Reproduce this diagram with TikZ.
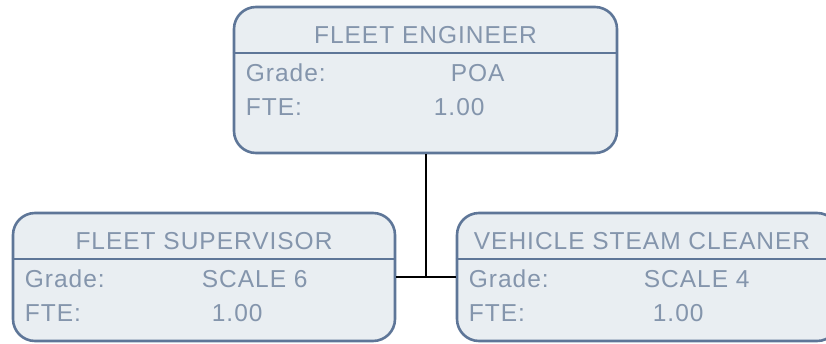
\documentclass[tikz,border=0pt]{standalone}
\usepackage{fontspec}
\setmainfont{Liberation Sans}[LetterSpace=4]
\definecolor{boxfill}{RGB}{233,238,242}
\definecolor{boxline}{RGB}{94,118,152}
\definecolor{boxtext}{RGB}{132,149,172}
\begin{document}
\begin{tikzpicture}[x=1pt, y=-1pt,
    box/.style={draw=boxline, fill=boxfill, line width=2.6pt, rounded corners=22pt, inner sep=0pt},
    topbox/.style={box, minimum width=383pt, minimum height=146pt},
    subbox/.style={box, minimum width=382pt, minimum height=128pt},
    divider/.style={draw=boxline, line width=2pt},
    txt/.style={font=\fontsize{24.5}{28}\selectfont, text=boxtext, inner sep=0pt},
    link/.style={draw=black, line width=2pt}]
  \useasboundingbox (0,0) rectangle (826,343);
  % boxes
  \node[topbox] (eng) at (425.5,80) {};
  \node[subbox] (sup) at (204,277) {};
  \node[subbox] (cln) at (648,277) {};
  % connectors
  \draw[link] (eng.south) -- (eng.south |- sup.east);
  \draw[link] (sup.east) -- (cln.west);
  % dividers
  \foreach \b in {eng,sup,cln} {
    \draw[divider] ([yshift=-47pt]\b.north west) -- ([yshift=-47pt]\b.north east);
  }
  % fleet engineer
  \node[txt, anchor=base] (engtitle) at ([yshift=-38pt]eng.north) {FLEET ENGINEER};
  \node[txt, anchor=base west] (enggrade) at ([xshift=13pt,yshift=-75.5pt]eng.north west) {Grade:};
  \node[txt, anchor=base] (enggradev) at ([xshift=245pt,yshift=-75.5pt]eng.north west) {POA};
  \node[txt, anchor=base west] (engfte) at ([xshift=13pt,yshift=-109.5pt]eng.north west) {FTE:};
  \node[txt, anchor=base west] (engftev) at ([xshift=201pt,yshift=-109.5pt]eng.north west) {1.00};
  % fleet supervisor
  \node[txt, anchor=base] (suptitle) at ([yshift=-37.5pt]sup.north) {FLEET SUPERVISOR};
  \node[txt, anchor=base west] (supgrade) at ([xshift=13pt,yshift=-75.5pt]sup.north west) {Grade:};
  \node[txt, anchor=base] (supgradev) at ([xshift=243pt,yshift=-75.5pt]sup.north west) {SCALE 6};
  \node[txt, anchor=base west] (supfte) at ([xshift=13pt,yshift=-109.5pt]sup.north west) {FTE:};
  \node[txt, anchor=base west] (supftev) at ([xshift=200pt,yshift=-109.5pt]sup.north west) {1.00};
  % vehicle steam cleaner
  \node[txt, anchor=base] (clntitle) at ([xshift=-6pt,yshift=-37.5pt]cln.north) {VEHICLE STEAM CLEANER};
  \node[txt, anchor=base west] (clngrade) at ([xshift=13pt,yshift=-75.5pt]cln.north west) {Grade:};
  \node[txt, anchor=base] (clngradev) at ([xshift=241pt,yshift=-75.5pt]cln.north west) {SCALE 4};
  \node[txt, anchor=base west] (clnfte) at ([xshift=13pt,yshift=-109.5pt]cln.north west) {FTE:};
  \node[txt, anchor=base west] (clnftev) at ([xshift=197pt,yshift=-109.5pt]cln.north west) {1.00};
\end{tikzpicture}
\end{document}
